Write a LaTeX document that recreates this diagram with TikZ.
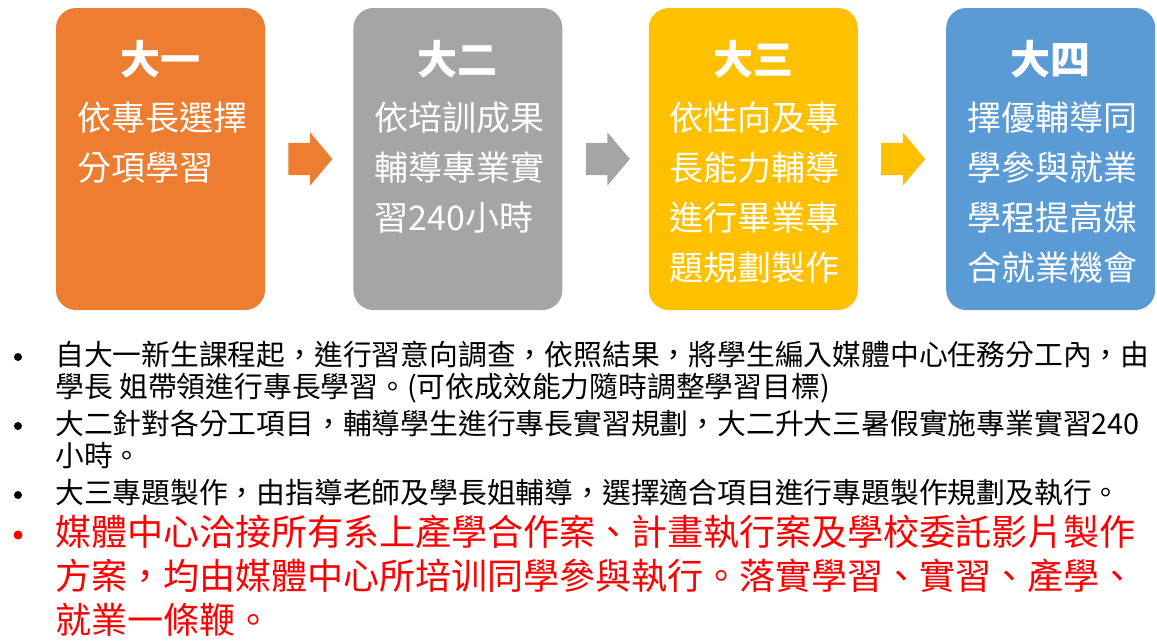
\documentclass[tikz,border=0pt]{standalone}
\usepackage{fontspec}
\newfontfamily\cjk{Noto Sans CJK TC}
\usetikzlibrary{positioning,shapes.arrows,calc}
\definecolor{cOrange}{HTML}{ED7D31}
\definecolor{cGray}{HTML}{A5A5A5}
\definecolor{cYellow}{HTML}{FFC000}
\definecolor{cBlue}{HTML}{5B9BD5}
\definecolor{cRed}{HTML}{FF0000}
\tikzset{
  yearbox/.style={rounded corners=20pt, minimum width=209pt, minimum height=302pt, inner sep=0pt},
  yeartitle/.style={text=white, font=\cjk\bfseries\fontsize{40}{40}\selectfont, inner sep=0pt},
  yeartext/.style={text=white, font=\cjk\fontsize{34}{50}\selectfont, align=left, anchor=north west, inner sep=0pt},
  steparrow/.style={single arrow, anchor=tail, minimum height=44pt, inner xsep=0pt, inner ysep=16pt, single arrow head extend=10.5pt, single arrow tip angle=100},
  itemdot/.style={circle, fill=black, minimum size=8pt, inner sep=0pt},
  itemtext/.style={font=\cjk\fontsize{28.8}{32}\selectfont, align=left, anchor=north west, inner sep=0pt},
}
\begin{document}
\begin{tikzpicture}[x=1pt,y=-1pt]
  \useasboundingbox (0,0) rectangle (1157,641);

  % the four years
  \node[yearbox, fill=cOrange] (box1) at (160.5,159) {};
  \node[yearbox, fill=cGray, right=88pt of box1] (box2) {};
  \node[yearbox, fill=cYellow, right=86pt of box2] (box3) {};
  \node[yearbox, fill=cBlue, right=88pt of box3] (box4) {};

  \node[yeartitle] (title1) at ([yshift=-51pt]box1.north) {大一};
  \node[yeartitle] (title2) at ([yshift=-51pt]box2.north) {大二};
  \node[yeartitle] (title3) at ([yshift=-51pt]box3.north) {大三};
  \node[yeartitle] (title4) at ([yshift=-51pt]box4.north) {大四};

  \node[yeartext] (text1) at ([xshift=21pt,yshift=-94pt]box1.north west) {依專長選擇\\分項學習};
  \node[yeartext] (text2) at ([xshift=21pt,yshift=-94pt]box2.north west) {依培訓成果\\輔導專業實\\習240小時};
  \node[yeartext] (text3) at ([xshift=21pt,yshift=-94pt]box3.north west) {依性向及專\\長能力輔導\\進行畢業專\\題規劃製作};
  \node[yeartext] (text4) at ([xshift=21pt,yshift=-94pt]box4.north west) {擇優輔導同\\學參與就業\\學程提高媒\\合就業機會};

  % arrows between the boxes
  \node[steparrow, fill=cOrange] (arrow12) at ([xshift=23pt]box1.east) {};
  \node[steparrow, fill=cGray] (arrow23) at ([xshift=23pt]box2.east) {};
  \node[steparrow, fill=cYellow] (arrow34) at ([xshift=23pt]box3.east) {};

  % notes
  \node[itemdot] (dot1) at (18,357) {};
  \node[itemtext] (item1) at (55,341) {自大一新生課程起，進行習意向調查，依照結果，將學生編入媒體中心任務分工內，由\\學長 姐帶領進行專長學習。(可依成效能力隨時調整學習目標)};
  \node[itemdot] (dot2) at (18,426) {};
  \node[itemtext] (item2) at (55,410) {大二針對各分工項目，輔導學生進行專長實習規劃，大二升大三暑假實施專業實習240\\小時。};
  \node[itemdot] (dot3) at (18,495) {};
  \node[itemtext] (item3) at (55,479) {大三專題製作，由指導老師及學長姐輔導，選擇適合項目進行專題製作規劃及執行。};
  \node[itemdot, fill=cRed, minimum size=9pt] (dot4) at (18,535) {};
  \node[itemtext, text=cRed, font=\cjk\fontsize{36}{44}\selectfont] (item4) at (55,515) {媒體中心洽接所有系上產學合作案、計畫執行案及學校委託影片製作\\方案，均由媒體中心所培训同學參與執行。落實學習、實習、產學、\\就業一條鞭。};
\end{tikzpicture}
\end{document}
